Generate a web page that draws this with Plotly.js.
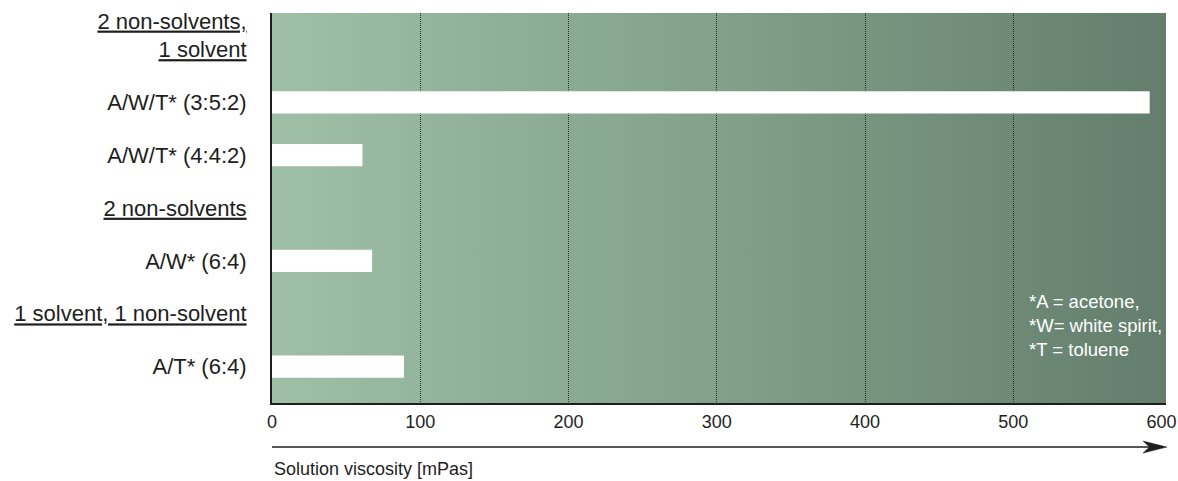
<!DOCTYPE html>
<html>
<head>
<meta charset="utf-8">
<script src="https://cdn.plot.ly/plotly-3.0.1.min.js"></script>
<style>
  html, body { margin: 0; padding: 0; background: #ffffff; }
  #wrap { position: relative; width: 1178px; height: 481px; }
  #bg {
    position: absolute; left: 272px; top: 13px; width: 894px; height: 390px;
    background: linear-gradient(to right, rgb(159,191,167) 0%, rgb(130,160,138) 50%, rgb(99,126,108) 100%);
  }
  #chart { position: absolute; left: 0; top: 0; width: 1178px; height: 481px; }
</style>
</head>
<body>
<div id="wrap">
  <div id="bg"></div>
  <div id="chart"></div>
</div>
<script>
// Rows from top to bottom: group headings (no bar) and mixtures
const categories = [
  'hdr1',
  'A/W/T* (3:5:2)',
  'A/W/T* (4:4:2)',
  'hdr2',
  'A/W* (6:4)',
  'hdr3',
  'A/T* (6:4)'
];
const tickLabels = [
  '<span style="text-decoration:underline">2 non-solvents,</span><br><span style="text-decoration:underline">1 solvent</span><br>\u00a0',
  'A/W/T* (3:5:2)',
  'A/W/T* (4:4:2)',
  '<span style="text-decoration:underline">2 non-solvents</span>',
  'A/W* (6:4)',
  '<span style="text-decoration:underline">1 solvent, 1 non-solvent</span>',
  'A/T* (6:4)'
];
// Solution viscosity in mPas
const viscosity = [null, 592, 61, null, 67.5, null, 89];
const xTicks = [0, 100, 200, 300, 400, 500, 600];
const gridValues = [100, 200, 300, 400, 500];

const FONT = 'Liberation Sans, Arial, sans-serif';
const INK = '#1e1e1e';

const trace = {
  type: 'bar',
  orientation: 'h',
  y: categories,
  x: viscosity,
  width: 0.42,
  marker: { color: '#ffffff', line: { width: 0 } },
  hoverinfo: 'x+y'
};

// Arrow under the value axis (paper coordinates)
const arrowY = -0.113;

const layout = {
  width: 1178,
  height: 481,
  margin: { l: 272, r: 12, t: 13, b: 78 },
  paper_bgcolor: 'rgba(0,0,0,0)',
  plot_bgcolor: 'rgba(0,0,0,0)',
  showlegend: false,
  xaxis: {
    range: [0, 603],
    tickvals: xTicks,
    ticktext: xTicks.map(String),
    showgrid: false,
    zeroline: false,
    showline: true,
    linecolor: INK,
    linewidth: 2,
    ticks: 'outside',
    ticklen: 1,
    tickcolor: 'rgba(0,0,0,0)',
    tickfont: { family: FONT, size: 18, color: INK },
    fixedrange: true
  },
  // dotted reference lines inside the plot
  xaxis2: {
    overlaying: 'x',
    side: 'bottom',
    range: [0, 603],
    tickvals: gridValues,
    showticklabels: false,
    ticks: '',
    showgrid: true,
    gridcolor: '#2b2b2b',
    gridwidth: 1,
    griddash: '1px,1px',
    zeroline: false,
    showline: false,
    fixedrange: true
  },
  yaxis: {
    type: 'category',
    categoryorder: 'array',
    categoryarray: categories,
    tickvals: categories,
    ticktext: tickLabels,
    range: [6.69, -0.69],
    showgrid: false,
    zeroline: false,
    showline: true,
    linecolor: INK,
    linewidth: 2,
    ticks: 'outside',
    ticklen: 19,
    tickcolor: 'rgba(0,0,0,0)',
    tickfont: { family: FONT, size: 22, color: INK },
    fixedrange: true
  },
  shapes: [
    {
      type: 'line', xref: 'paper', yref: 'paper',
      x0: 0, x1: 0.985, y0: arrowY, y1: arrowY,
      line: { color: INK, width: 1.6 }
    },
    {
      type: 'path', xref: 'paper', yref: 'paper',
      path: `M 1.001,${arrowY} L 0.9743,${arrowY + 0.0154} L 0.9815,${arrowY} L 0.9743,${arrowY - 0.0154} Z`,
      fillcolor: INK,
      line: { color: INK, width: 0.5 }
    }
  ],
  annotations: [
    {
      xref: 'paper', yref: 'paper', x: 0, y: -0.169,
      xanchor: 'left', yanchor: 'middle', showarrow: false,
      text: 'Solution viscosity [mPas]',
      font: { family: FONT, size: 18, color: INK }
    },
    {
      xref: 'paper', yref: 'paper', x: 0.844, y: 0.198,
      xanchor: 'left', yanchor: 'middle', align: 'left', showarrow: false,
      text: '*A = acetone,<br>*W= white spirit,<br>*T = toluene',
      font: { family: FONT, size: 18.5, color: '#ffffff' }
    }
  ]
};

Plotly.newPlot('chart', [trace, { type: 'bar', orientation: 'h', x: [], y: [], xaxis: 'x2', showlegend: false }], layout, { displayModeBar: false, staticPlot: true });
</script>
</body>
</html>
